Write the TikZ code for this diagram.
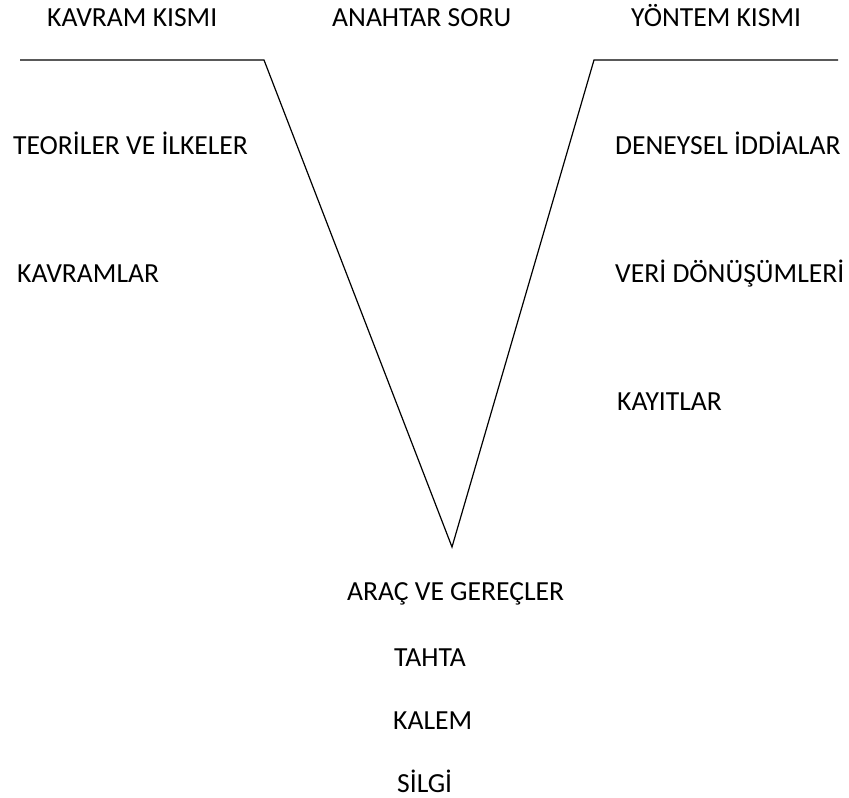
\documentclass[tikz,border=0pt]{standalone}
\usepackage{fontspec}
\setmainfont{Carlito}
\begin{document}
\begin{tikzpicture}[x=1pt,y=-1pt,
  lbl/.style={anchor=base west,inner sep=0pt,font=\fontsize{27.6}{30}\selectfont},
  vline/.style={line width=1.2pt,black}]
\useasboundingbox (0,0) rectangle (849,798);
\coordinate (l0) at (20,60);
\coordinate (l1) at (264,60);
\coordinate (b) at (452,547);
\coordinate (r1) at (594,60);
\coordinate (r0) at (838,60);
\draw[vline] (l0) -- (l1) -- (b) -- (r1) -- (r0);
\node[lbl] (k1) at (47,26) {KAVRAM KISMI};
\node[lbl] (k2) at (332,26) {ANAHTAR SORU};
\node[lbl] (k3) at (631,26) {YÖNTEM KISMI};
\node[lbl] (t1) at (13,154) {TEORİLER VE İLKELER};
\node[lbl] (t2) at (17,282) {KAVRAMLAR};
\node[lbl] (d1) at (615,154) {DENEYSEL İDDİALAR};
\node[lbl] (d2) at (615,282) {VERİ DÖNÜŞÜMLERİ};
\node[lbl] (d3) at (617,410) {KAYITLAR};
\node[lbl] (a1) at (347,600) {ARAÇ VE GEREÇLER};
\node[lbl] (a2) at (394,666) {TAHTA};
\node[lbl] (a3) at (393,729) {KALEM};
\node[lbl] (a4) at (397,792) {SİLGİ};
\end{tikzpicture}
\end{document}
